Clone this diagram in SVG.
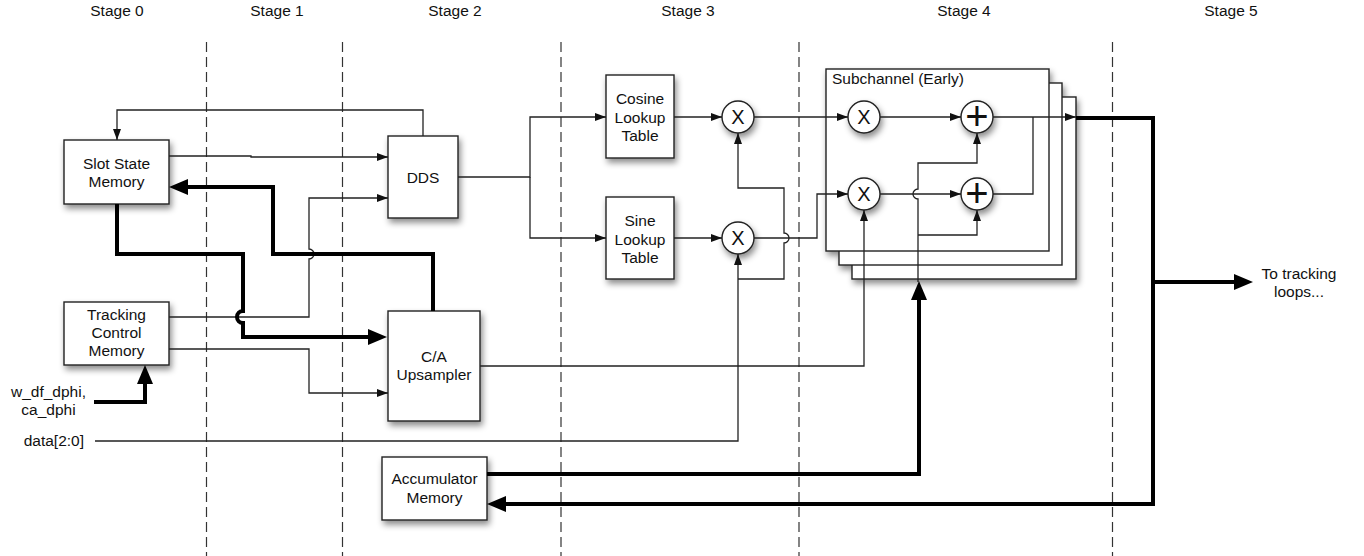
<svg xmlns="http://www.w3.org/2000/svg" width="1364" height="556" viewBox="0 0 1364 556">
<style>
text{font-family:"Liberation Sans",Arial,Helvetica,sans-serif;font-size:15.5px;fill:#111}
.c{text-anchor:middle}
.box{fill:#fff;stroke:#222;stroke-width:1.4;filter:url(#sh)}
.stk{fill:#fff;stroke:#222;stroke-width:1.4}
.circ{fill:#fff;stroke:#222;stroke-width:1.4;filter:url(#sh)}
.dash{stroke:#333;stroke-width:1.2;stroke-dasharray:10 5;fill:none}
.thin{fill:none;stroke:#222;stroke-width:1.3;marker-end:url(#a)}
.thinn{fill:none;stroke:#222;stroke-width:1.3}
.thick{fill:none;stroke:#000;stroke-width:4;stroke-linejoin:miter}
.thA{marker-end:url(#A)}
.x{font-size:20px;text-anchor:middle}
.p{font-size:40px;text-anchor:middle}
</style>
<defs>
<filter id="sh" x="-20%" y="-20%" width="150%" height="160%">
<feDropShadow dx="2" dy="4" stdDeviation="3" flood-color="#000" flood-opacity="0.45"/>
</filter>
<marker id="a" markerUnits="userSpaceOnUse" markerWidth="11" markerHeight="8" refX="11" refY="4" orient="auto"><path d="M0,0 L11,4 L0,8 z" fill="#111"/></marker>
<marker id="A" markerUnits="userSpaceOnUse" markerWidth="19" markerHeight="16" refX="0" refY="8" orient="auto"><path d="M0,0 L19,8 L0,16 z" fill="#000"/></marker>
</defs>
<rect width="1364" height="556" fill="#fff"/>
<g id="stages">
<line class="dash" x1="206.5" y1="42" x2="206.5" y2="556"/>
<line class="dash" x1="342.5" y1="42" x2="342.5" y2="556"/>
<line class="dash" x1="561" y1="42" x2="561" y2="556"/>
<line class="dash" x1="799" y1="42" x2="799" y2="556"/>
<line class="dash" x1="1112.5" y1="42" x2="1112.5" y2="556"/>
<text class="c" x="117" y="16">Stage 0</text>
<text class="c" x="277" y="16">Stage 1</text>
<text class="c" x="455" y="16">Stage 2</text>
<text class="c" x="688" y="16">Stage 3</text>
<text class="c" x="964" y="16">Stage 4</text>
<text class="c" x="1231" y="16">Stage 5</text>
</g>
<g id="slot"><rect class="box" x="64" y="140" width="105" height="64"/><text class="c" x="116.5" y="168.5">Slot State</text><text class="c" x="116.5" y="187">Memory</text></g>
<g id="dds"><rect class="box" x="388" y="136" width="70" height="82"/><text class="c" x="423" y="183">DDS</text></g>
<g id="tcm"><rect class="box" x="64" y="302" width="105" height="63"/><text class="c" x="116.5" y="320">Tracking</text><text class="c" x="116.5" y="338">Control</text><text class="c" x="116.5" y="356">Memory</text></g>
<g id="ca"><rect class="box" x="388" y="311" width="92" height="110"/><text class="c" x="434" y="362">C/A</text><text class="c" x="434" y="380">Upsampler</text></g>
<g id="acc"><rect class="box" x="382" y="457" width="105" height="63"/><text class="c" x="434.5" y="484">Accumulator</text><text class="c" x="434.5" y="503">Memory</text></g>
<g id="cos"><rect class="box" x="606" y="75" width="68" height="83"/><text class="c" x="640" y="104">Cosine</text><text class="c" x="640" y="123">Lookup</text><text class="c" x="640" y="141">Table</text></g>
<g id="sin"><rect class="box" x="606" y="197" width="68" height="82"/><text class="c" x="640" y="226">Sine</text><text class="c" x="640" y="245">Lookup</text><text class="c" x="640" y="263">Table</text></g>
<g id="mul1"><circle class="circ" cx="738" cy="117" r="16"/><text class="x" x="738" y="124">X</text></g>
<g id="mul2"><circle class="circ" cx="738" cy="238" r="16"/><text class="x" x="738" y="245">X</text></g>
<g id="subchannel">
<g filter="url(#sh)">
<rect class="stk" x="852" y="97" width="224" height="182"/>
<rect class="stk" x="839" y="83" width="223" height="182"/>
<rect class="stk" x="826" y="69" width="223" height="182"/>
</g>
<text x="832" y="84">Subchannel (Early)</text>
</g>
<g id="smul1"><circle class="circ" cx="864" cy="117" r="16"/><text class="x" x="864" y="124">X</text></g>
<g id="smul2"><circle class="circ" cx="864" cy="194" r="16"/><text class="x" x="864" y="201">X</text></g>
<g id="sadd1"><circle class="circ" cx="977" cy="117" r="16"/><text class="p" x="977" y="130">+</text></g>
<g id="sadd2"><circle class="circ" cx="977" cy="194" r="16"/><text class="p" x="977" y="207">+</text></g>
<g id="labels">
<text class="c" x="48.5" y="397">w_df_dphi,</text>
<text class="c" x="48.5" y="415">ca_dphi</text>
<text x="84" y="446" text-anchor="end">data[2:0]</text>
<text class="c" x="1299" y="279">To tracking</text>
<text class="c" x="1299" y="297">loops...</text>
</g>
<g id="connectors">
<path class="thin" d="M423,136 V110 H117 V140"/>
<path class="thin" d="M169,156 H251 V157 H388"/>
<path class="thin" d="M169,317 H309 V259 A5,5 0 0 0 309,249 V198 H388"/>
<path class="thin" d="M169,349 H309 V393 H388"/>
<path class="thin" d="M458,177 H530 V117 H606"/>
<path class="thin" d="M530,177 V238 H606"/>
<path class="thin" d="M674,117 H722"/>
<path class="thin" d="M674,238 H722"/>
<path class="thin" d="M754,117 H848"/>
<path class="thin" d="M754,238 H817 V194 H848"/>
<path class="thin" d="M95,441 H738 V254"/>
<path class="thin" d="M738,279 H784 V243 A5,5 0 0 0 784,233 V188 H738 V133"/>
<path class="thin" d="M480,366 H864 V210"/>
<path class="thin" d="M880,117 H961"/>
<path class="thin" d="M880,194 H961"/>
<path class="thin" d="M918,282 V199 A5,5 0 0 1 918,189 V163 H977 V133"/>
<path class="thin" d="M918,235 H977 V210"/>
<path class="thin" d="M993,117 H1076"/>
<path class="thinn" d="M993,194 H1033 V117"/>
<path class="thick thA" d="M433,311 V254 H273 V187 H188"/>
<path class="thick thA" d="M117,204 V254 H243 V311 A6,6 0 0 0 243,323 V337 H368"/>
<path class="thick thA" d="M94,402 H145 V384"/>
<path class="thick thA" d="M487,474 H919 V300"/>
<path class="thick thA" d="M1076,118 H1153 V504 H506"/>
<path class="thick thA" d="M1153,282 H1234"/>
</g>
</svg>
